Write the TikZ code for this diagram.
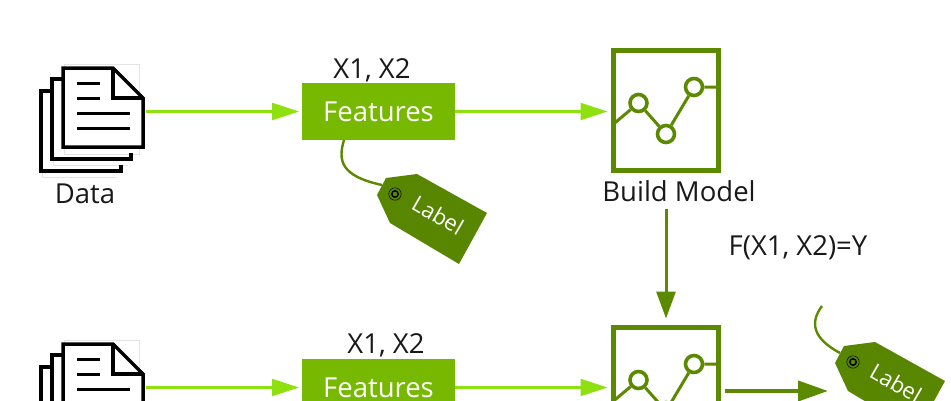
\documentclass[tikz,border=0pt]{standalone}
\usepackage{fontspec}
\setmainfont{Open Sans}
\usetikzlibrary{arrows.meta}
\definecolor{nvgreen}{HTML}{76B900}
\definecolor{arrowlight}{HTML}{8FE010}
\definecolor{darkgreen}{HTML}{5B8A00}
\definecolor{faint}{HTML}{E4E4E4}
\tikzset{
  caption/.style={font=\fontsize{27.5}{31}\selectfont,text=black!90,inner sep=0pt},
  featbox/.style={fill=nvgreen,minimum width=153pt,minimum height=57pt,inner sep=0pt,outer sep=0pt,text=white,font=\fontsize{27.5}{31}\selectfont},
  modelbox/.style={draw=darkgreen,line width=5.6pt,minimum width=105pt,minimum height=120pt,inner sep=0pt,outer sep=0pt},
  docanchor/.style={minimum width=105pt,minimum height=10pt,inner sep=0pt,outer sep=0pt},
  sheet/.style={draw=black,line width=3.5pt,miter limit=10},
  sheetrule/.style={draw=black,line width=3pt},
  lightarrow/.style={draw=arrowlight,line width=2.2pt,-{Triangle[length=27pt,width=17pt,fill=arrowlight]}},
  darkarrow/.style={draw=darkgreen,line width=4pt,-{Triangle[length=30pt,width=20pt,fill=darkgreen]}},
  trendline/.style={draw=darkgreen,line width=3pt},
  trenddot/.style={circle,draw=darkgreen,line width=3.6pt,fill=white,minimum size=17pt,inner sep=0pt},
  cord/.style={draw=darkgreen,line width=2.4pt},
  tagbody/.style={fill=darkgreen!97!black},
  taglabel/.style={text=white,font=\fontsize{22}{25}\selectfont,rotate=-30,inner sep=0pt},
}
\newcommand{\docicon}[2]{%
  \begin{scope}[shift={(0,#1)}]
    \draw[faint,line width=.6pt] (64,64) rectangle (139,154);
    \draw[faint,line width=.6pt] (53,154) -- (53,165) -- (128,165);
    \draw[faint,line width=.6pt] (42,171) -- (42,177) -- (117,177);
    \draw[sheet] (121,165) -- (121,171) -- (41,171) -- (41,91) -- (52,91);
    \draw[sheet] (131,153) -- (131,159) -- (52,159) -- (52,79) -- (63,79);
    \draw[sheet,fill=white] (63,68) -- (113,68) -- (143,98) -- (143,147) -- (63,147) -- cycle;
    \draw[sheet] (113,68) -- (113,98) -- (143,98);
    \draw[sheetrule] (77,83) -- (100,83);
    \draw[sheetrule] (77,98) -- (100,98);
    \draw[sheetrule] (77,113) -- (130,113);
    \draw[sheetrule] (77,128) -- (130,128);
    \node[docanchor] (#2) at (93.5,111.5) {};
  \end{scope}}
\newcommand{\trendicon}[2]{%
  \begin{scope}[shift={(0,#1)}]
    \node[modelbox] (#2) at (666,110.5) {};
    \node[trenddot] (#2a) at (638.5,103) {};
    \node[trenddot] (#2b) at (666,134) {};
    \node[trenddot] (#2c) at (694,87) {};
    \coordinate (#2l) at (#2.west |- 0,124);
    \coordinate (#2r) at (#2.east |- #2c);
    \draw[trendline] (#2l) -- (#2a) -- (#2b) -- (#2c) -- (#2r);
  \end{scope}}
\newcommand{\pricetag}[3]{%
  \begin{scope}[shift={(#1,#2)}]
    \fill[tagbody] (386,178) -- (417,174) -- (487,213) -- (459,264) -- (390,223) -- (377,195) -- cycle;
    \coordinate (#3) at (382,185);
    \draw[black,line width=1.5pt,fill=darkgreen] (395,194) circle (3.2pt);
    \draw[black,line width=.5pt] (395,194) circle (6.2pt);
    \node[taglabel] (#3t) at (438,215) {Label};
  \end{scope}}
\begin{document}
\begin{tikzpicture}[x=1pt,y=-1pt]
  \useasboundingbox (0,0) rectangle (951,400);
  \clip (0,0) rectangle (951,400);
  \fill[white] (0,0) rectangle (951,400);

  \docicon{0}{docA}
  \docicon{276}{docB}
  \node[caption] (dataCap) at (85,194) {Data};

  \node[featbox] (featA) at (378.5,111.5) {Features};
  \node[featbox] (featB) at (378.5,387.5) {Features};
  \node[caption] (xA) at (372,70) {X1, X2};
  \node[caption] (xB) at (386,345) {X1, X2};

  \trendicon{0}{modelA}
  \trendicon{277}{modelB}
  \node[caption,minimum height=36pt] (buildCap) at (679,191) {Build Model};
  \node[caption] (fCap) at (798,248) {F(X1, X2)=Y};

  \draw[lightarrow,shorten >=3pt] (docA.east) -- (featA.west);
  \draw[lightarrow,shorten >=6pt] (featA.east) -- (modelA.west |- featA.east);
  \draw[lightarrow,shorten >=3pt] (docB.east) -- (featB.west);
  \draw[lightarrow,shorten >=6pt] (featB.east) -- (modelB.west |- featB.east);
  \draw[darkarrow,line width=3pt,-{Triangle[length=27pt,width=19pt,fill=darkgreen]},shorten >=9pt] (buildCap.south -| modelB.north) -- (modelB.north);

  \pricetag{0}{0}{tagA}
  \pricetag{458}{168}{tagB}
  \draw[cord] (featA.south west) ++(42,0) .. controls (338,160) and (340,176) .. (tagA);
  \coordinate (cordEnd) at (822,306);
  \draw[cord] (cordEnd) .. controls (810,322) and (812,338) .. (tagB);

  \coordinate (arrowEnd) at (828,391);
  \coordinate (arrowStart) at (725,391);
  \draw[darkarrow] (arrowStart) -- (arrowEnd);
\end{tikzpicture}
\end{document}
